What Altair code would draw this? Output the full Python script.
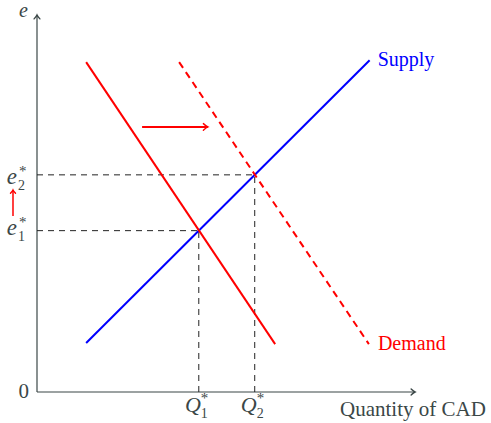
import altair as alt
import pandas as pd

# ---- data (in diagram units) ----
axis_max = 10.0
supply_x = [1.3, 8.8]
supply_y = [1.3, 8.8]
demand_x = [1.3, 6.3]
demand_y = [8.75, 1.27]
demand2_x = [3.76, 8.78]
demand2_y = [8.75, 1.27]
eq_x = [4.28, 5.76]        # Q1*, Q2*
eq_y = [4.28, 5.76]        # e1*, e2*
eq_idx = ["1", "2"]
shift_x = [2.78, 4.52]
shift_y = [7.03, 7.03]
rise_x = [-0.635, -0.635]
rise_y = [4.67, 5.36]

INK = "#3b4747"
RED = "#ff0000"
BLUE = "#0000ff"
FONT = "Liberation Serif"

xs = alt.Scale(domain=[0, axis_max], nice=False, zero=False)
ys = alt.Scale(domain=[0, axis_max], nice=False, zero=False)
X = alt.X("x:Q", scale=xs, axis=None)
Y = alt.Y("y:Q", scale=ys, axis=None)


def seg(xv, yv, color, width=2, dash=None):
    kw = dict(color=color, strokeWidth=width, clip=False)
    if dash:
        kw["strokeDash"] = dash
    return alt.Chart(pd.DataFrame({"x": xv, "y": yv})).mark_line(**kw).encode(x=X, y=Y, order="x:Q" if xv[0] != xv[1] else "y:Q")


def head(x, y, angle, color, size=90):
    return alt.Chart(pd.DataFrame({"x": [x], "y": [y]})).mark_point(
        shape="M -1 -0.75 Q -0.35 -0.15 0 0 Q -0.35 0.15 -1 0.75",
        filled=False, stroke=color, strokeWidth=1.4, size=size, angle=angle, clip=False,
        strokeCap="round", opacity=1
    ).encode(x=X, y=Y)


def label(text, x, y, size=19, color=INK, style="normal", align="center", baseline="alphabetic", dx=0, dy=0):
    return alt.Chart(pd.DataFrame({"x": [x], "y": [y], "t": [text]})).mark_text(
        font=FONT, fontSize=size, color=color, fontStyle=style, align=align,
        baseline=baseline, dx=dx, dy=dy, clip=False
    ).encode(x=X, y=Y, text="t:N")


layers = []
# axes
layers.append(seg([0, axis_max], [0, 0], INK, 1.2))
layers.append(seg([0, 0], [0, axis_max], INK, 1.2))
layers.append(head(axis_max, 0, 0, INK, 60))
layers.append(head(0, axis_max, 270, INK, 60))

# dashed guides
for qx, ey in zip(eq_x, eq_y):
    layers.append(seg([0, qx], [ey, ey], "#222222", 1, [6, 5]))
    layers.append(seg([qx, qx], [0, ey], "#222222", 1, [6, 5]))

# curves
layers.append(seg(supply_x, supply_y, BLUE, 2))
layers.append(seg(demand_x, demand_y, RED, 2))
layers.append(seg(demand2_x, demand2_y, RED, 2, [7, 5]))

# shift arrows
layers.append(seg(shift_x, shift_y, RED, 2))
layers.append(head(shift_x[1], shift_y[1], 0, RED, 80))
layers.append(seg(rise_x, rise_y, RED, 1.5))
layers.append(head(rise_x[1], rise_y[1], 270, RED, 45))

# text labels
layers.append(label("Supply", supply_x[1], supply_y[1], 20, BLUE, align="left", baseline="middle", dx=8))
layers.append(label("Demand", demand2_x[1], demand2_y[1], 20, RED, align="left", baseline="middle", dx=9))
layers.append(label("Quantity of CAD", axis_max, 0, 21, INK, align="left", dx=-75, dy=24))
layers.append(label("0", 0, 0, 21, INK, align="right", baseline="middle", dx=-8))
layers.append(label("e", 0, axis_max, 20, INK, style="italic", align="right", baseline="middle", dx=-9, dy=-4))

for i, (qx, ey, k) in enumerate(zip(eq_x, eq_y, eq_idx)):
    # e_k^*
    dy_e = 9 if k == "2" else 4
    layers.append(label("e", 0, ey, 23, INK, style="italic", align="right", dx=-20, dy=dy_e))
    layers.append(label(k, 0, ey, 14, INK, align="left", dx=-19, dy=dy_e + 6))
    layers.append(label("*", 0, ey, 15, INK, align="left", dx=-18, dy=dy_e - 8))
    # Q_k^*
    layers.append(label("Q", qx, 0, 22, INK, style="italic", align="right", dx=2, dy=20))
    layers.append(label(k, qx, 0, 14, INK, align="left", dx=2, dy=26))
    layers.append(label("*", qx, 0, 15, INK, align="left", dx=2, dy=11))

chart = alt.layer(*layers).properties(
    width=378, height=377,
    padding={"left": 37, "top": 15, "right": 76, "bottom": 31},
    autosize=alt.AutoSizeParams(type="none"),
    background="white",
).configure_view(stroke=None)

chart.save("out.html", embed_options={"renderer": "svg", "actions": False})
